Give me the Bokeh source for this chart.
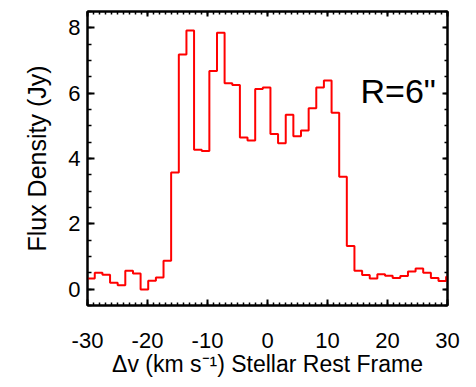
from bokeh.plotting import figure
from bokeh.models import (Range1d, LinearAxis, SingleIntervalTicker, Label,
                          CustomJSTickFormatter)
from bokeh.embed import file_html
from bokeh.resources import INLINE

# Left edges of the velocity channels (km/s), plus the final right edge
velocity_edges = [-30.06, -28.79, -27.51, -26.24, -24.97, -23.70, -22.42, -21.15,
                  -19.88, -18.60, -17.33, -16.06, -14.78, -13.51, -12.24, -10.96,
                  -9.69, -8.42, -7.15, -5.87, -4.60, -3.33, -2.05, -0.78,
                  0.49, 1.76, 3.04, 4.31, 5.58, 6.86, 8.13, 9.40,
                  10.68, 11.95, 13.22, 14.49, 15.77, 17.04, 18.31, 19.59,
                  20.86, 22.13, 23.41, 24.68, 25.95, 27.23, 28.50, 29.77, 31.04]
# Flux density per channel (Jy)
flux_density = [0.33, 0.50, 0.44, 0.20, 0.12, 0.56, 0.48, -0.01,
                0.26, 0.36, 0.87, 3.57, 7.18, 7.92, 4.27, 4.23,
                6.68, 7.85, 6.30, 6.25, 4.64, 4.55, 6.13, 6.17,
                4.75, 4.47, 5.34, 4.68, 4.86, 5.54, 6.17, 6.39,
                5.40, 3.44, 1.32, 0.56, 0.43, 0.33, 0.46, 0.41,
                0.34, 0.40, 0.54, 0.63, 0.50, 0.34, 0.25, 0.38]
x_range = (-30, 30)
y_range = (-0.5, 8.5)
annotation_text = "R=6\""
x_title = "\u0394v (km s\u207b\u00b9) Stellar Rest Frame"
y_title = "Flux Density (Jy)"

FONT = "Liberation Sans"

p = figure(width=476, height=387, output_backend="svg", toolbar_location=None,
           x_range=Range1d(*x_range), y_range=Range1d(*y_range),
           min_border_left=87, min_border_right=29, min_border_top=11,
           min_border_bottom=82, x_axis_type=None, y_axis_type=None)
p.grid.visible = False
p.outline_line_color = "black"
p.outline_line_width = 2
p.background_fill_color = "white"
p.border_fill_color = "white"

xt = SingleIntervalTicker(interval=10, num_minor_ticks=10)
yt = SingleIntervalTicker(interval=2, num_minor_ticks=4)
empty = CustomJSTickFormatter(code="return ''")
plain = CustomJSTickFormatter(code="return String(tick)")


def style(ax, major_in, minor_in):
    ax.major_tick_in = major_in
    ax.major_tick_out = 0
    ax.minor_tick_in = minor_in
    ax.minor_tick_out = 0
    ax.axis_line_width = 2
    ax.major_tick_line_width = 2
    ax.minor_tick_line_width = 1.5
    ax.axis_line_color = "black"
    ax.major_tick_line_color = "black"
    ax.minor_tick_line_color = "black"


bottom = LinearAxis(ticker=xt, formatter=plain, axis_label=x_title)
style(bottom, 6, 3)
bottom.major_label_text_font = FONT
bottom.major_label_text_font_size = "22px"
bottom.major_label_text_color = "black"
bottom.major_label_standoff = 27
bottom.axis_label_text_font = FONT
bottom.axis_label_text_font_size = "23px"
bottom.axis_label_text_font_style = "normal"
bottom.axis_label_text_color = "black"
bottom.axis_label_standoff = 0
p.add_layout(bottom, "below")

left = LinearAxis(ticker=yt, formatter=plain, axis_label=y_title)
style(left, 7, 4)
left.major_label_text_font = FONT
left.major_label_text_font_size = "22px"
left.major_label_text_color = "black"
left.major_label_standoff = 7
left.axis_label_text_font = FONT
left.axis_label_text_font_size = "25px"
left.axis_label_text_font_style = "normal"
left.axis_label_text_color = "black"
left.axis_label_standoff = 14
p.add_layout(left, "left")

top = LinearAxis(ticker=xt, formatter=empty)
style(top, 5, 3)
top.major_label_text_font_size = "1px"
top.major_label_standoff = 0
p.add_layout(top, "above")

right = LinearAxis(ticker=yt, formatter=empty)
style(right, 5, 3)
right.major_label_text_font_size = "1px"
right.major_label_standoff = 0
p.add_layout(right, "right")

p.step(velocity_edges, flux_density + [flux_density[-1]], mode="after",
       line_color="#ff0000", line_width=2)

p.add_layout(Label(x=15.5, y=6.08, text=annotation_text, text_font=FONT,
                   text_font_size="34px", text_color="black",
                   text_align="left", text_baseline="alphabetic"))

open("out.html", "w").write(file_html(p, INLINE))
